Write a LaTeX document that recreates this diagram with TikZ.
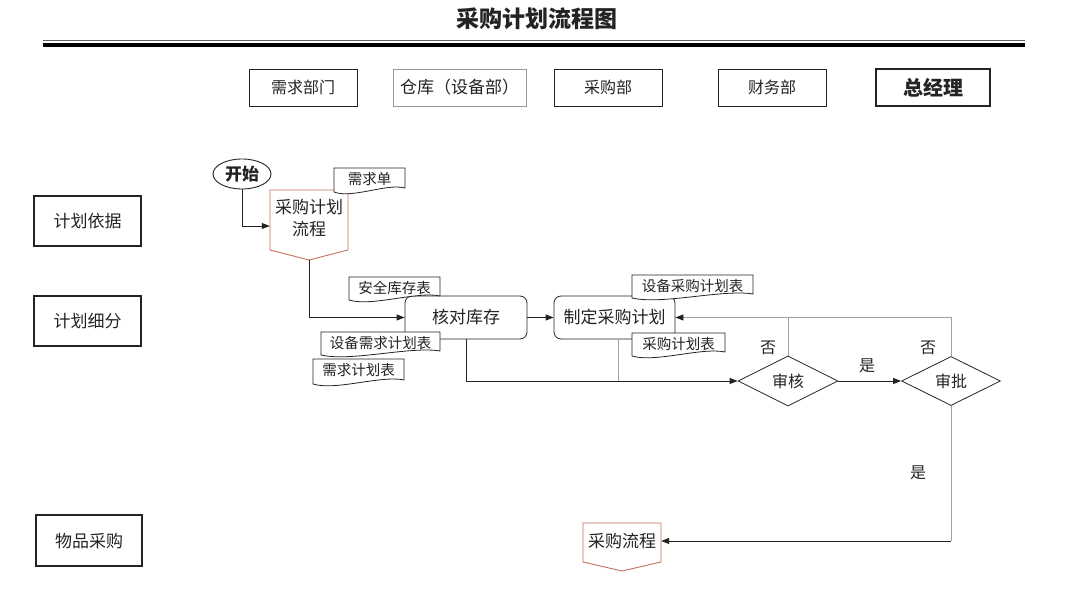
\documentclass[tikz,border=0pt]{standalone}
\usepackage{fontspec}
\setmainfont{Noto Sans CJK SC}
\usetikzlibrary{arrows.meta,shapes.geometric,calc}
\definecolor{ink}{RGB}{35,35,35}
\definecolor{lgray}{RGB}{160,160,160}
\definecolor{pent}{RGB}{196,112,92}
\definecolor{boxgray}{RGB}{150,150,150}
\newcommand\fs[1]{\fontsize{#1}{#1}\selectfont}
\newcommand\docat[6]{%
  \draw[docline] ({#2-#4/2},{#3-#5/2}) -- ({#2+#4/2},{#3-#5/2}) -- ({#2+#4/2},{#3+#5/2-4})
    .. controls ({#2+#4/4},{#3+#5/2-9}) and ({#2-#4/4},{#3+#5/2+7}) .. ({#2-#4/2},{#3+#5/2}) -- cycle;
  \node[doctxt, minimum width=#4pt, minimum height=#5pt] (#1) at (#2,{#3-1}) {#6};}
\begin{document}
\begin{tikzpicture}[x=1pt,y=-1pt,
  every node/.style={inner sep=0pt, text=ink},
  dept/.style={draw=ink, line width=0.8pt, minimum width=108pt, minimum height=37pt, font=\fs{16}},
  lane/.style={draw=ink, line width=2pt, minimum width=107pt, minimum height=50pt, font=\fs{17}},
  proc/.style={draw=ink, line width=0.8pt, rounded corners=7pt, fill=white, font=\fs{17}, minimum height=43pt},
  decide/.style={diamond, aspect=2, draw=ink, line width=0.8pt, fill=white, minimum width=100pt, minimum height=50pt, font=\fs{16}},
  doctxt/.style={font=\fs{14.5}},
  docline/.style={draw=ink, line width=0.8pt, fill=white},
  pentline/.style={draw=pent, line width=0.9pt, fill=white},
  flow/.style={draw=ink, line width=0.8pt},
  arr/.style={flow, -{Triangle[length=8pt,width=6pt]}},
  gline/.style={draw=lgray, line width=0.8pt},
  garr/.style={gline, -{Triangle[length=8pt,width=6pt,color=ink]}},
  lbl/.style={font=\fs{16}}
]
\useasboundingbox (0,0) rectangle (1080,593);

% header
\node[font=\bfseries\fs{23}] (title) at (537,19) {采购计划流程图};
\draw[draw=ink!70, line width=1.3pt] (43,40.7) -- (1025,40.7);
\draw[black, line width=4pt] (43,44.7) -- (1025,44.7);

% departments
\node[dept] (d1) at (303,87.5) {需求部门};
\node[dept, draw=boxgray, minimum width=133pt, font=\fs{17}] (d2) at (459.5,87.5) {仓库（设备部）};
\node[dept] (d3) at (608,87.5) {采购部};
\node[dept] (d4) at (772,87.5) {财务部};
\node[dept, line width=2pt, minimum width=114pt, font=\bfseries\fs{20}] (d5) at (933,87.5) {总经理};

% lanes
\node[lane] (l1) at (87.5,221.5) {计划依据};
\node[lane] (l2) at (87.5,321.5) {计划细分};
\node[lane, minimum width=106pt, minimum height=51pt] (l3) at (89,541) {物品采购};

% flow nodes
\node[draw=ink, line width=0.9pt, ellipse, minimum width=58pt, minimum height=30pt, font=\bfseries\fs{17}] (start) at (242,174) {开始};
\draw[pentline] (270,190) -- (348,190) -- (348,250) -- (309,260) -- (270,250) -- cycle;
\node[font=\fontsize{17}{22}\selectfont, align=center, minimum width=78pt, minimum height=60pt] (plan) at (309,218) {采购计划\\流程};
\coordinate (plantip) at (309,260);

\node[proc, minimum width=122pt] (check) at (466,317.5) {核对库存};
\node[proc, minimum width=121pt] (make) at (614.5,317.5) {制定采购计划};
\node[decide] (shen) at (788,381) {审核};
\node[decide, minimum width=99pt, minimum height=49pt] (pi) at (951,381) {审批};

\draw[pentline] (583,523) -- (661,523) -- (661,562) -- (622,571) -- (583,562) -- cycle;
\node[font=\fs{17}, minimum width=78pt, minimum height=36pt] (buy) at (622,541) {采购流程};

% connectors
\draw[arr] (start.south) |- ([yshift=-8pt]plan.west);
\draw[arr] (plantip) |- (check.west);
\draw[arr] (check.east) -- (make.west);
\draw[arr] (check.south) |- (shen.west);
\draw[gline] ([xshift=3.5pt]make.south) -- ([xshift=3.5pt]make.south |- shen.west);
\draw[arr] (shen.east) -- (pi.west);
\draw[gline] (shen.north) -- (shen.north |- make.east);
\draw[garr] (pi.north) |- (make.east);
\draw[gline] (pi.south) -- (pi.south |- buy.east);
\draw[arr] (pi.south |- buy.east) -- (buy.east);

% documents
\docat{xqd}{369.5}{180}{71}{24}{需求单}
\docat{aqkc}{394.5}{288.5}{91}{23}{安全库存表}
\docat{sbxq}{380.5}{343.5}{119}{23}{设备需求计划表}
\docat{xqjh}{358.5}{371.5}{91}{25}{需求计划表}
\docat{sbcg}{692.5}{286.5}{121}{23}{设备采购计划表}
\docat{cgjh}{678.5}{344.5}{93}{23}{采购计划表}

% labels
\node[lbl] (no1) at (768,348) {否};
\node[lbl] (no2) at (928,348) {否};
\node[lbl] (yes1) at (867,366) {是};
\node[lbl] (yes2) at (918,473) {是};
\end{tikzpicture}
\end{document}
